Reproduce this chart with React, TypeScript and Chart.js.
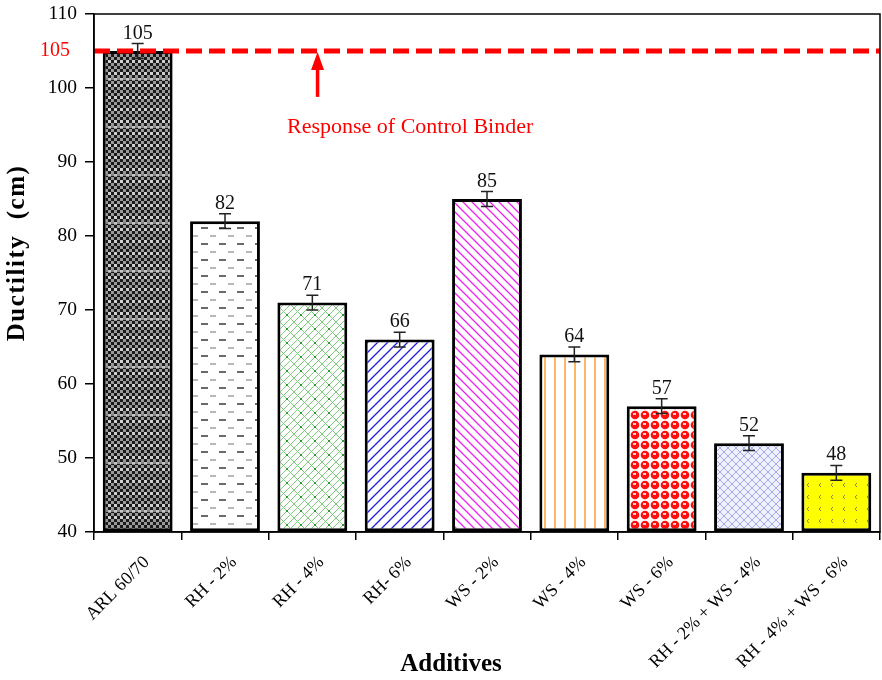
import React, { useEffect, useRef } from "react";
import { Chart, registerables } from "chart.js";

Chart.register(...registerables);

const CATEGORIES = [
  "ARL 60/70",
  "RH - 2%",
  "RH - 4%",
  "RH- 6%",
  "WS - 2%",
  "WS - 4%",
  "WS - 6%",
  "RH - 2% + WS - 4%",
  "RH - 4% + WS - 6%",
];
const DUCTILITY = [105, 82, 71, 66, 85, 64, 57, 52, 48];
const ERRORS = [1, 1, 1, 1, 1, 1, 1, 1, 1];
const Y_MIN = 40;
const Y_MAX = 110;
const Y_STEP = 10;
const CONTROL_VALUE = 105;
const CONTROL_TEXT = "Response of Control Binder";
const ARROW_CATEGORY = 2.06;
const ARROW_FROM = 98.8;
const TEXT_CATEGORY = 3.12;
const TEXT_VALUE = 93.9;
const Y_TITLE = "Ductility  (cm)";
const X_TITLE = "Additives";

const SERIF = "'Liberation Serif', 'Times New Roman', serif";

function tile(w: number, h: number, draw: (c: CanvasRenderingContext2D) => void): CanvasPattern | string {
  const cv = document.createElement("canvas");
  cv.width = w;
  cv.height = h;
  const c = cv.getContext("2d")!;
  draw(c);
  const main = document.createElement("canvas").getContext("2d")!;
  return main.createPattern(cv, "repeat") || "#888";
}

function makePatterns() {
  const p: (CanvasPattern | string)[] = [];
  // 1 dark checker
  p.push(
    tile(6, 48, (c) => {
      c.fillStyle = "#1a1a1a";
      c.fillRect(0, 0, 6, 48);
      for (let y = 0; y < 48; y += 3) {
        for (let x = 0; x < 6; x += 3) {
          if (((x + y) / 3) % 2 === 0) {
            c.fillStyle = y % 12 === 0 ? "#d0d0d0" : "#9a9a9a";
            c.fillRect(x, y, 3, 3);
          }
        }
      }
      c.fillStyle = "rgba(255,255,255,0.45)";
      c.fillRect(0, 30, 6, 2);
    })
  );
  // 2 dashes
  p.push(
    tile(18, 16, (c) => {
      c.fillStyle = "#ffffff";
      c.fillRect(0, 0, 18, 16);
      c.fillStyle = "#6a6a6a";
      c.fillRect(3, 3, 7, 2);
      c.fillStyle = "#b8b8b8";
      c.fillRect(12, 11, 7, 2);
    })
  );
  // 3 green brick crosshatch
  p.push(
    tile(14, 14, (c) => {
      c.fillStyle = "#ffffff";
      c.fillRect(0, 0, 14, 14);
      c.strokeStyle = "#7ccc7c";
      c.lineWidth = 1;
      c.beginPath();
      c.moveTo(0, 14);
      c.lineTo(14, 0);
      c.moveTo(0, 7);
      c.lineTo(7, 0);
      c.moveTo(7, 14);
      c.lineTo(14, 7);
      c.moveTo(0, 0);
      c.lineTo(7, 7);
      c.moveTo(7, 7);
      c.lineTo(14, 14);
      c.stroke();
      c.fillStyle = "#2a9a2a";
      c.fillRect(6, 6, 2, 2);
    })
  );
  // 4 blue forward diagonal
  p.push(
    tile(10, 10, (c) => {
      c.fillStyle = "#ffffff";
      c.fillRect(0, 0, 10, 10);
      c.strokeStyle = "#1f1fe0";
      c.lineWidth = 1.3;
      c.beginPath();
      c.moveTo(-1, 11);
      c.lineTo(11, -1);
      c.moveTo(-1, 1);
      c.lineTo(1, -1);
      c.moveTo(9, 11);
      c.lineTo(11, 9);
      c.stroke();
    })
  );
  // 5 magenta back diagonal
  p.push(
    tile(9, 9, (c) => {
      c.fillStyle = "#ffffff";
      c.fillRect(0, 0, 9, 9);
      c.strokeStyle = "#ee22ee";
      c.lineWidth = 1.3;
      c.beginPath();
      c.moveTo(-1, -1);
      c.lineTo(10, 10);
      c.moveTo(8, -1);
      c.lineTo(10, 1);
      c.moveTo(-1, 8);
      c.lineTo(1, 10);
      c.stroke();
    })
  );
  // 6 orange verticals
  p.push(
    tile(10, 10, (c) => {
      c.fillStyle = "#ffffff";
      c.fillRect(0, 0, 10, 10);
      c.fillStyle = "#ffb468";
      c.fillRect(4, 0, 2, 10);
    })
  );
  // 7 red circles
  p.push(
    tile(10, 10, (c) => {
      c.fillStyle = "#ffffff";
      c.fillRect(0, 0, 10, 10);
      c.fillStyle = "#ff1010";
      c.beginPath();
      c.arc(5, 5, 4.3, 0, Math.PI * 2);
      c.fill();
      c.fillStyle = "#ffd0d0";
      c.fillRect(3, 3, 3, 2);
    })
  );
  // 8 lavender lattice
  p.push(
    tile(8, 8, (c) => {
      c.fillStyle = "#eef0fc";
      c.fillRect(0, 0, 8, 8);
      c.strokeStyle = "#a6aae6";
      c.lineWidth = 1;
      c.beginPath();
      c.moveTo(0, 8);
      c.lineTo(8, 0);
      c.moveTo(0, 0);
      c.lineTo(8, 8);
      c.stroke();
    })
  );
  // 9 yellow with dots
  p.push(
    tile(12, 12, (c) => {
      c.fillStyle = "#ffff00";
      c.fillRect(0, 0, 12, 12);
      c.strokeStyle = "#8a8a40";
      c.lineWidth = 1;
      c.beginPath();
      c.moveTo(5, 3);
      c.lineTo(3, 5);
      c.lineTo(5, 7);
      c.stroke();
    })
  );
  return p;
}

const annotationPlugin = {
  id: "custom",
  afterDatasetsDraw(chart: any) {
    const { ctx, chartArea } = chart;
    const x = chart.scales.x;
    const y = chart.scales.y;
    ctx.save();
    // error bars
    ctx.strokeStyle = "#222";
    ctx.lineWidth = 1.5;
    DUCTILITY.forEach((v, i) => {
      const px = x.getPixelForValue(i);
      const top = y.getPixelForValue(v + ERRORS[i]);
      const bot = y.getPixelForValue(v - ERRORS[i]);
      ctx.beginPath();
      ctx.moveTo(px, top);
      ctx.lineTo(px, bot);
      ctx.moveTo(px - 6, top);
      ctx.lineTo(px + 6, top);
      ctx.moveTo(px - 6, bot);
      ctx.lineTo(px + 6, bot);
      ctx.stroke();
    });
    // value labels
    ctx.fillStyle = "#111";
    ctx.font = `20px ${SERIF}`;
    ctx.textAlign = "center";
    ctx.textBaseline = "alphabetic";
    DUCTILITY.forEach((v, i) => {
      const px = x.getPixelForValue(i);
      const top = y.getPixelForValue(v + ERRORS[i]);
      ctx.fillText(String(v), px, top - 5);
    });
    // control line
    const cy = y.getPixelForValue(CONTROL_VALUE);
    ctx.strokeStyle = "#ff0000";
    ctx.lineWidth = 5;
    ctx.setLineDash([16, 7]);
    ctx.beginPath();
    ctx.moveTo(chartArea.left, cy);
    ctx.lineTo(chartArea.right, cy);
    ctx.stroke();
    ctx.setLineDash([]);
    // arrow
    const ax = x.getPixelForValue(ARROW_CATEGORY);
    const ay = y.getPixelForValue(ARROW_FROM);
    ctx.lineWidth = 3.5;
    ctx.beginPath();
    ctx.moveTo(ax, ay);
    ctx.lineTo(ax, cy + 14);
    ctx.stroke();
    ctx.fillStyle = "#ff0000";
    ctx.beginPath();
    ctx.moveTo(ax, cy + 1);
    ctx.lineTo(ax - 6.5, cy + 19);
    ctx.lineTo(ax + 6.5, cy + 19);
    ctx.closePath();
    ctx.fill();
    // text
    ctx.font = `22px ${SERIF}`;
    ctx.textBaseline = "alphabetic";
    ctx.textAlign = "center";
    ctx.fillText(CONTROL_TEXT, x.getPixelForValue(TEXT_CATEGORY), y.getPixelForValue(TEXT_VALUE));
    // red 105 on axis
    ctx.font = `20px ${SERIF}`;
    ctx.textAlign = "right";
    ctx.textBaseline = "middle";
    ctx.fillText(String(CONTROL_VALUE), chartArea.left - 24, cy);
    ctx.restore();
  },
  afterDraw(chart: any) {
    const { ctx, chartArea } = chart;
    ctx.save();
    ctx.strokeStyle = "#000";
    ctx.lineWidth = 1.5;
    ctx.strokeRect(chartArea.left, chartArea.top, chartArea.right - chartArea.left, chartArea.bottom - chartArea.top);
    ctx.fillStyle = "#000";
    ctx.font = `bold 25px ${SERIF}`;
    ctx.textAlign = "center";
    ctx.textBaseline = "middle";
    ctx.save();
    (ctx as any).letterSpacing = "1.5px";
    ctx.translate(18, 253);
    ctx.rotate(-Math.PI / 2);
    ctx.fillText(Y_TITLE, 0, 0);
    ctx.restore();
    ctx.font = `bold 25px ${SERIF}`;
    ctx.fillText(X_TITLE, 451, 665);
    ctx.restore();
  },
};

export default function App() {
  const ref = useRef<HTMLCanvasElement>(null);
  useEffect(() => {
    document.body.style.margin = "0";
    const patterns = makePatterns();
    const yTicks: number[] = [];
    for (let v = Y_MIN; v <= Y_MAX; v += Y_STEP) yTicks.push(v);
    const chart = new Chart(ref.current!, {
      type: "bar",
      data: {
        labels: CATEGORIES,
        datasets: [
          {
            data: DUCTILITY,
            base: Y_MIN,
            backgroundColor: patterns as any,
            borderColor: "#000",
            borderWidth: 3,
            borderSkipped: false,
            barPercentage: 0.8,
            categoryPercentage: 1,
            clip: false as any,
          } as any,
        ],
      },
      options: {
        responsive: false,
        animation: false,
        layout: { padding: { left: 8, top: 14, right: 2, bottom: 0 } },
        plugins: { legend: { display: false }, tooltip: { enabled: false } },
        scales: {
          x: {
            grid: { display: true, drawOnChartArea: false, tickLength: 8, color: "#000", lineWidth: 1.5 },
            border: { display: true, color: "#000", width: 1.5 },
            ticks: {
              maxRotation: 45,
              minRotation: 45,
              color: "#000",
              font: { family: SERIF, size: 18 },
              padding: 12,
              labelOffset: 9,
              autoSkip: false,
            },
            afterFit: (s: any) => {
              s.height = 148;
              s.paddingLeft = 0;
              s.paddingRight = 0;
            },
          },
          y: {
            min: Y_MIN,
            max: Y_MAX,
            afterBuildTicks: (s: any) => {
              s.ticks = yTicks.map((v) => ({ value: v }));
            },
            grid: { display: true, drawOnChartArea: false, tickLength: 9, color: "#000", lineWidth: 1.5 },
            border: { display: true, color: "#000", width: 1.5 },
            ticks: { color: "#000", font: { family: SERIF, size: 19.5 }, padding: 8 },
            afterFit: (s: any) => {
              s.width = 86;
              s.paddingTop = 0;
              s.paddingBottom = 0;
            },
          },
        },
      },
      plugins: [annotationPlugin],
    });
    return () => chart.destroy();
  }, []);
  return (
    <div style={{ width: 882, height: 680, background: "#fff" }}>
      <canvas ref={ref} width={882} height={680} />
    </div>
  );
}
